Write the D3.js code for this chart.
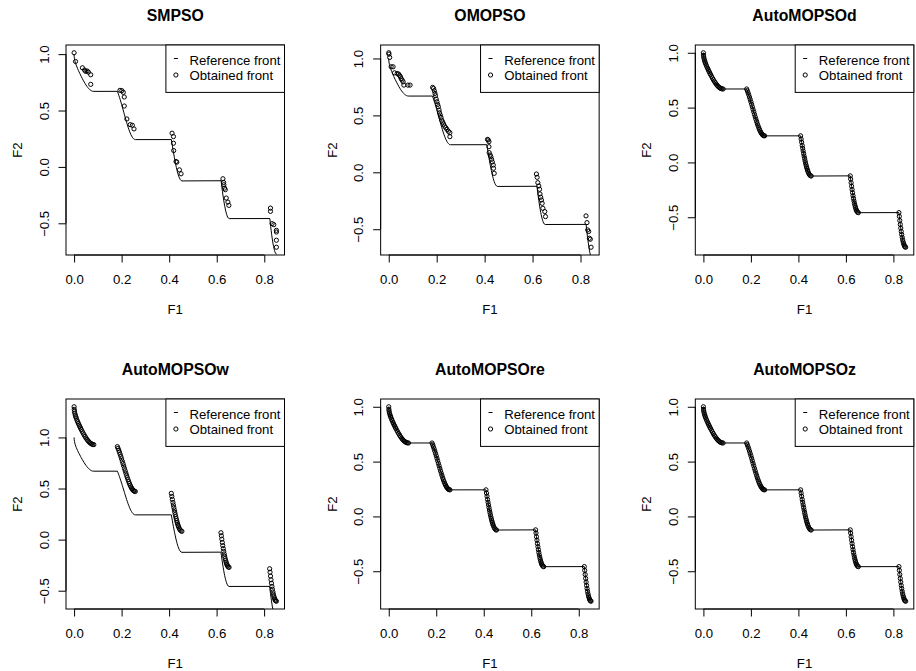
<!DOCTYPE html>
<html>
<head>
<meta charset="utf-8">
<script src="https://cdn.jsdelivr.net/npm/d3@7"></script>
<style>
body { margin: 0; background: #fff; }
svg { display: block; }
text { font-family: "Liberation Sans", Arial, sans-serif; fill: #000; }
</style>
</head>
<body>
<svg id="chart" width="916" height="671"></svg>
<script>
// reference front
var refF1 = [0, 0.0005, 0.0015, 0.003, 0.005, 0.007, 0.009, 0.012, 0.015, 0.018, 0.021, 0.024, 0.027, 0.030, 0.034, 0.038, 0.042, 0.046, 0.050, 0.054, 0.058, 0.062, 0.066, 0.070, 0.074, 0.078, 0.083,
  0.1822, 0.185, 0.188, 0.191, 0.194, 0.197, 0.200, 0.203, 0.206, 0.209, 0.212, 0.215, 0.218, 0.221, 0.224, 0.227, 0.230, 0.233, 0.236, 0.239, 0.242, 0.245, 0.248, 0.251, 0.254, 0.2578,
  0.4093, 0.4115, 0.4137, 0.416, 0.418, 0.420, 0.422, 0.424, 0.426, 0.428, 0.430, 0.432, 0.434, 0.436, 0.438, 0.440, 0.443, 0.446, 0.450, 0.4539,
  0.6183, 0.620, 0.622, 0.624, 0.626, 0.628, 0.630, 0.632, 0.634, 0.636, 0.638, 0.640, 0.642, 0.644, 0.646, 0.649, 0.6525,
  0.8233, 0.825, 0.827, 0.829, 0.831, 0.833, 0.835, 0.837, 0.839, 0.841, 0.843, 0.845, 0.847, 0.849, 0.8518];
var refF2 = [1.0, 0.9776, 0.9612, 0.9450, 0.9285, 0.9148, 0.9026, 0.8860, 0.8707, 0.8562, 0.8422, 0.8287, 0.8154, 0.8025, 0.7858, 0.7697, 0.7544, 0.7399, 0.7264, 0.7141, 0.7030, 0.6934, 0.6853, 0.6788, 0.6740, 0.6710, 0.6697,
  0.6698, 0.6539, 0.6356, 0.6163, 0.5959, 0.5747, 0.5528, 0.5303, 0.5075, 0.4845, 0.4615, 0.4387, 0.4163, 0.3944, 0.3734, 0.3533, 0.3344, 0.3168, 0.3007, 0.2862, 0.2737, 0.2630, 0.2545, 0.2481, 0.2440, 0.2422,
  0.2424, 0.2131, 0.1842, 0.1546, 0.1295, 0.1051, 0.0814, 0.0586, 0.0368, 0.0160, -0.0036, -0.0220, -0.0391, -0.0548, -0.0691, -0.0818, -0.0979, -0.1103, -0.1208, -0.1242,
  -0.1226, -0.1518, -0.1851, -0.2171, -0.2476, -0.2763, -0.3034, -0.3286, -0.3518, -0.3730, -0.3920, -0.4087, -0.4231, -0.4351, -0.4446, -0.4543, -0.4583,
  -0.4577, -0.4917, -0.5297, -0.5656, -0.5989, -0.6297, -0.6579, -0.6831, -0.7054, -0.7247, -0.7408, -0.7539, -0.7636, -0.7700, -0.7734];

// SMPSO obtained front
var smpsoF1 = [0.000, 0.006, 0.035, 0.044, 0.049, 0.055, 0.060, 0.070, 0.070,
  0.193, 0.201, 0.207, 0.211, 0.211, 0.222, 0.236, 0.245, 0.252,
  0.412, 0.418, 0.418, 0.419, 0.429, 0.432, 0.443, 0.450,
  0.626, 0.629, 0.630, 0.633, 0.636, 0.640, 0.647, 0.651,
  0.826, 0.826, 0.833, 0.840, 0.851, 0.851, 0.851, 0.851];
var smpsoF2 = [1.012, 0.935, 0.879, 0.859, 0.847, 0.850, 0.841, 0.817, 0.732,
  0.679, 0.676, 0.661, 0.620, 0.540, 0.425, 0.375, 0.369, 0.337,
  0.299, 0.269, 0.210, 0.145, 0.048, 0.042, -0.026, -0.061,
  -0.105, -0.138, -0.158, -0.188, -0.202, -0.276, -0.312, -0.341,
  -0.365, -0.394, -0.503, -0.512, -0.562, -0.577, -0.650, -0.712];

// OMOPSO obtained front
var omopsoF1 = [0.000, 0.001, 0.004, 0.010, 0.018, 0.024, 0.035, 0.041, 0.045, 0.049, 0.052, 0.056, 0.060, 0.063, 0.080, 0.089,
  0.183, 0.187, 0.190, 0.193, 0.195, 0.198, 0.201, 0.204, 0.207, 0.210, 0.212, 0.215, 0.218, 0.221, 0.225, 0.229, 0.233, 0.238, 0.243, 0.249, 0.255, 0.255,
  0.412, 0.415, 0.418, 0.418, 0.419, 0.423, 0.426, 0.429, 0.432, 0.436, 0.437, 0.440,
  0.616, 0.619, 0.622, 0.626, 0.629, 0.631, 0.634, 0.637, 0.640, 0.643, 0.651, 0.654,
  0.823, 0.827, 0.830, 0.834, 0.837, 0.841, 0.844];
var omopsoF2 = [1.050, 1.038, 1.009, 0.927, 0.927, 0.874, 0.868, 0.863, 0.851, 0.839, 0.822, 0.810, 0.795, 0.766, 0.766, 0.766,
  0.746, 0.737, 0.716, 0.693, 0.673, 0.643, 0.620, 0.596, 0.576, 0.547, 0.523, 0.503, 0.482, 0.459, 0.442, 0.424, 0.406, 0.392, 0.377, 0.360, 0.348, 0.313,
  0.289, 0.284, 0.269, 0.225, 0.173, 0.152, 0.137, 0.114, 0.091, 0.064, 0.035, -0.009,
  -0.015, -0.044, -0.091, -0.120, -0.149, -0.190, -0.219, -0.243, -0.272, -0.316, -0.345, -0.389,
  -0.383, -0.442, -0.506, -0.520, -0.579, -0.588, -0.658];

// AutoMOPSOw obtained front (same F1 spread as the reference, shifted up)
var autoWF1 = refF1;
var autoWF2 = [1.3000, 1.2745, 1.2558, 1.2373, 1.2186, 1.2031, 1.1893, 1.1707, 1.1536, 1.1374, 1.1219, 1.1069, 1.0924, 1.0782, 1.0600, 1.0424, 1.0257, 1.0098, 0.9950, 0.9815, 0.9692, 0.9584, 0.9492, 0.9417, 0.9359, 0.9318, 0.9293,
  0.9100, 0.8936, 0.8748, 0.8550, 0.8342, 0.8125, 0.7901, 0.7672, 0.7439, 0.7204, 0.6970, 0.6737, 0.6508, 0.6285, 0.6070, 0.5865, 0.5671, 0.5491, 0.5326, 0.5177, 0.5047, 0.4936, 0.4847, 0.4779, 0.4734, 0.4710,
  0.4527, 0.4231, 0.3940, 0.3642, 0.3389, 0.3142, 0.2903, 0.2673, 0.2453, 0.2243, 0.2045, 0.1858, 0.1685, 0.1526, 0.1381, 0.1252, 0.1088, 0.0961, 0.0851, 0.0813,
  0.0672, 0.0378, 0.0043, -0.0278, -0.0585, -0.0874, -0.1147, -0.1400, -0.1634, -0.1848, -0.2039, -0.2209, -0.2354, -0.2476, -0.2573, -0.2672, -0.2715,
  -0.2850, -0.3190, -0.3572, -0.3932, -0.4267, -0.4576, -0.4860, -0.5114, -0.5338, -0.5532, -0.5696, -0.5827, -0.5926, -0.5992, -0.6028];

// AutoMOPSOd / re / z sit on the reference front
var autoDF1 = refF1, autoDF2 = refF2;
var autoReF1 = refF1, autoReF2 = refF2;
var autoZF1 = refF1, autoZF2 = refF2;

var titles = ['SMPSO', 'OMOPSO', 'AutoMOPSOd', 'AutoMOPSOw', 'AutoMOPSOre', 'AutoMOPSOz'];
var runsF1 = [smpsoF1, omopsoF1, autoDF1, autoWF1, autoReF1, autoZF1];
var runsF2 = [smpsoF2, omopsoF2, autoDF2, autoWF2, autoReF2, autoZF2];
var xTicks = [0, 0.2, 0.4, 0.6, 0.8];
var yTicks = [-0.5, 0, 0.5, 1.0];
var legendLabels = ['Reference front', 'Obtained front'];

//--------------------------------------------------------------------------------

var LEFT0 = 66, COLSTEP = 314.65, TOP0 = 45, ROWSTEP = 354;
var PW = 218.5, PH = 210;
var FS = 13.2;
var R = 2.1;

var svg = d3.select('#chart');
svg.append('rect').attr('width', 916).attr('height', 671).attr('fill', '#fff');

// R style: data range stretched by 4% on each side
function rRange(vals) {
  var ext = d3.extent(vals);
  var d = (ext[1] - ext[0]) * 0.04;
  return [ext[0] - d, ext[1] + d];
}

var refPts = refF1.map(function(v, i) { return [v, refF2[i]]; });

titles.forEach(function(title, i) {
  var col = i % 3, row = Math.floor(i / 3);
  var left = LEFT0 + col * COLSTEP, top = TOP0 + row * ROWSTEP;
  var right = left + PW, bottom = top + PH;
  var pts = runsF1[i].map(function(v, k) { return [v, runsF2[i][k]]; });

  var x = d3.scaleLinear().domain(rRange(runsF1[i])).range([left, right]);
  var y = d3.scaleLinear().domain(rRange(runsF2[i])).range([bottom, top]);

  var g = svg.append('g');

  g.append('clipPath').attr('id', 'clip' + i)
    .append('rect').attr('x', left).attr('y', top).attr('width', PW).attr('height', PH);

  var plot = g.append('g').attr('clip-path', 'url(#clip' + i + ')');

  plot.append('path')
    .datum(refPts)
    .attr('d', d3.line().x(function(d) { return x(d[0]); }).y(function(d) { return y(d[1]); }))
    .attr('fill', 'none')
    .attr('stroke', '#000')
    .attr('stroke-width', 1);

  plot.selectAll('circle')
    .data(pts)
    .enter()
    .append('circle')
    .attr('cx', function(d) { return x(d[0]); })
    .attr('cy', function(d) { return y(d[1]); })
    .attr('r', R)
    .attr('fill', 'none')
    .attr('stroke', '#000')
    .attr('stroke-width', 1);

  // axes
  var bottomAxis = d3.axisBottom(x).tickValues(xTicks).tickFormat(d3.format('.1f')).tickSize(7.5);
  var gx = g.append('g').attr('transform', 'translate(0,' + bottom + ')').call(bottomAxis);
  gx.select('.domain').remove();
  gx.append('line').attr('x1', x(xTicks[0])).attr('x2', x(xTicks[xTicks.length - 1]))
    .attr('y1', 0).attr('y2', 0).attr('stroke', '#000');
  gx.selectAll('text').attr('y', 28.5).attr('dy', null)
    .attr('font-size', FS).attr('font-family', '"Liberation Sans", Arial, sans-serif').attr('fill', '#000');

  var leftAxis = d3.axisLeft(y).tickValues(yTicks).tickFormat(d3.format('.1f')).tickSize(7.5);
  var gy = g.append('g').attr('transform', 'translate(' + left + ',0)').call(leftAxis);
  gy.select('.domain').remove();
  gy.append('line').attr('y1', y(yTicks[0])).attr('y2', y(yTicks[yTicks.length - 1]))
    .attr('x1', 0).attr('x2', 0).attr('stroke', '#000');
  gy.selectAll('text')
    .attr('x', null).attr('dy', null)
    .attr('text-anchor', 'middle')
    .attr('transform', 'translate(-17.5,0) rotate(-90)')
    .attr('font-size', FS).attr('font-family', '"Liberation Sans", Arial, sans-serif').attr('fill', '#000');

  // box
  g.append('rect').attr('x', left).attr('y', top).attr('width', PW).attr('height', PH)
    .attr('fill', 'none').attr('stroke', '#000').attr('stroke-width', 1);

  // titles and labels
  g.append('text').attr('x', (left + right) / 2).attr('y', top - 24.3)
    .attr('text-anchor', 'middle').attr('font-size', 15.8).attr('font-weight', 'bold').text(title);
  g.append('text').attr('x', (left + right) / 2).attr('y', bottom + 59)
    .attr('text-anchor', 'middle').attr('font-size', FS).text('F1');
  g.append('text').attr('transform', 'translate(' + (left - 44) + ',' + (top + PH / 2) + ') rotate(-90)')
    .attr('text-anchor', 'middle').attr('font-size', FS).text('F2');

  // legend
  var lw = 118.6, lh = 47.4, lx = right - lw;
  var leg = g.append('g');
  leg.append('rect').attr('x', lx).attr('y', top).attr('width', lw).attr('height', lh)
    .attr('fill', '#fff').attr('stroke', '#000').attr('stroke-width', 1);
  leg.append('line').attr('x1', lx + 8).attr('x2', lx + 12).attr('y1', top + 13.5).attr('y2', top + 13.5)
    .attr('stroke', '#000').attr('stroke-width', 1);
  leg.append('circle').attr('cx', lx + 10).attr('cy', top + 30).attr('r', R)
    .attr('fill', 'none').attr('stroke', '#000').attr('stroke-width', 1);
  leg.selectAll('text.lab').data(legendLabels).enter().append('text')
    .attr('class', 'lab')
    .attr('x', lx + 23.6)
    .attr('y', function(d, k) { return top + 20 + k * 15; })
    .attr('font-size', FS)
    .text(function(d) { return d; });
});
</script>
</body>
</html>
